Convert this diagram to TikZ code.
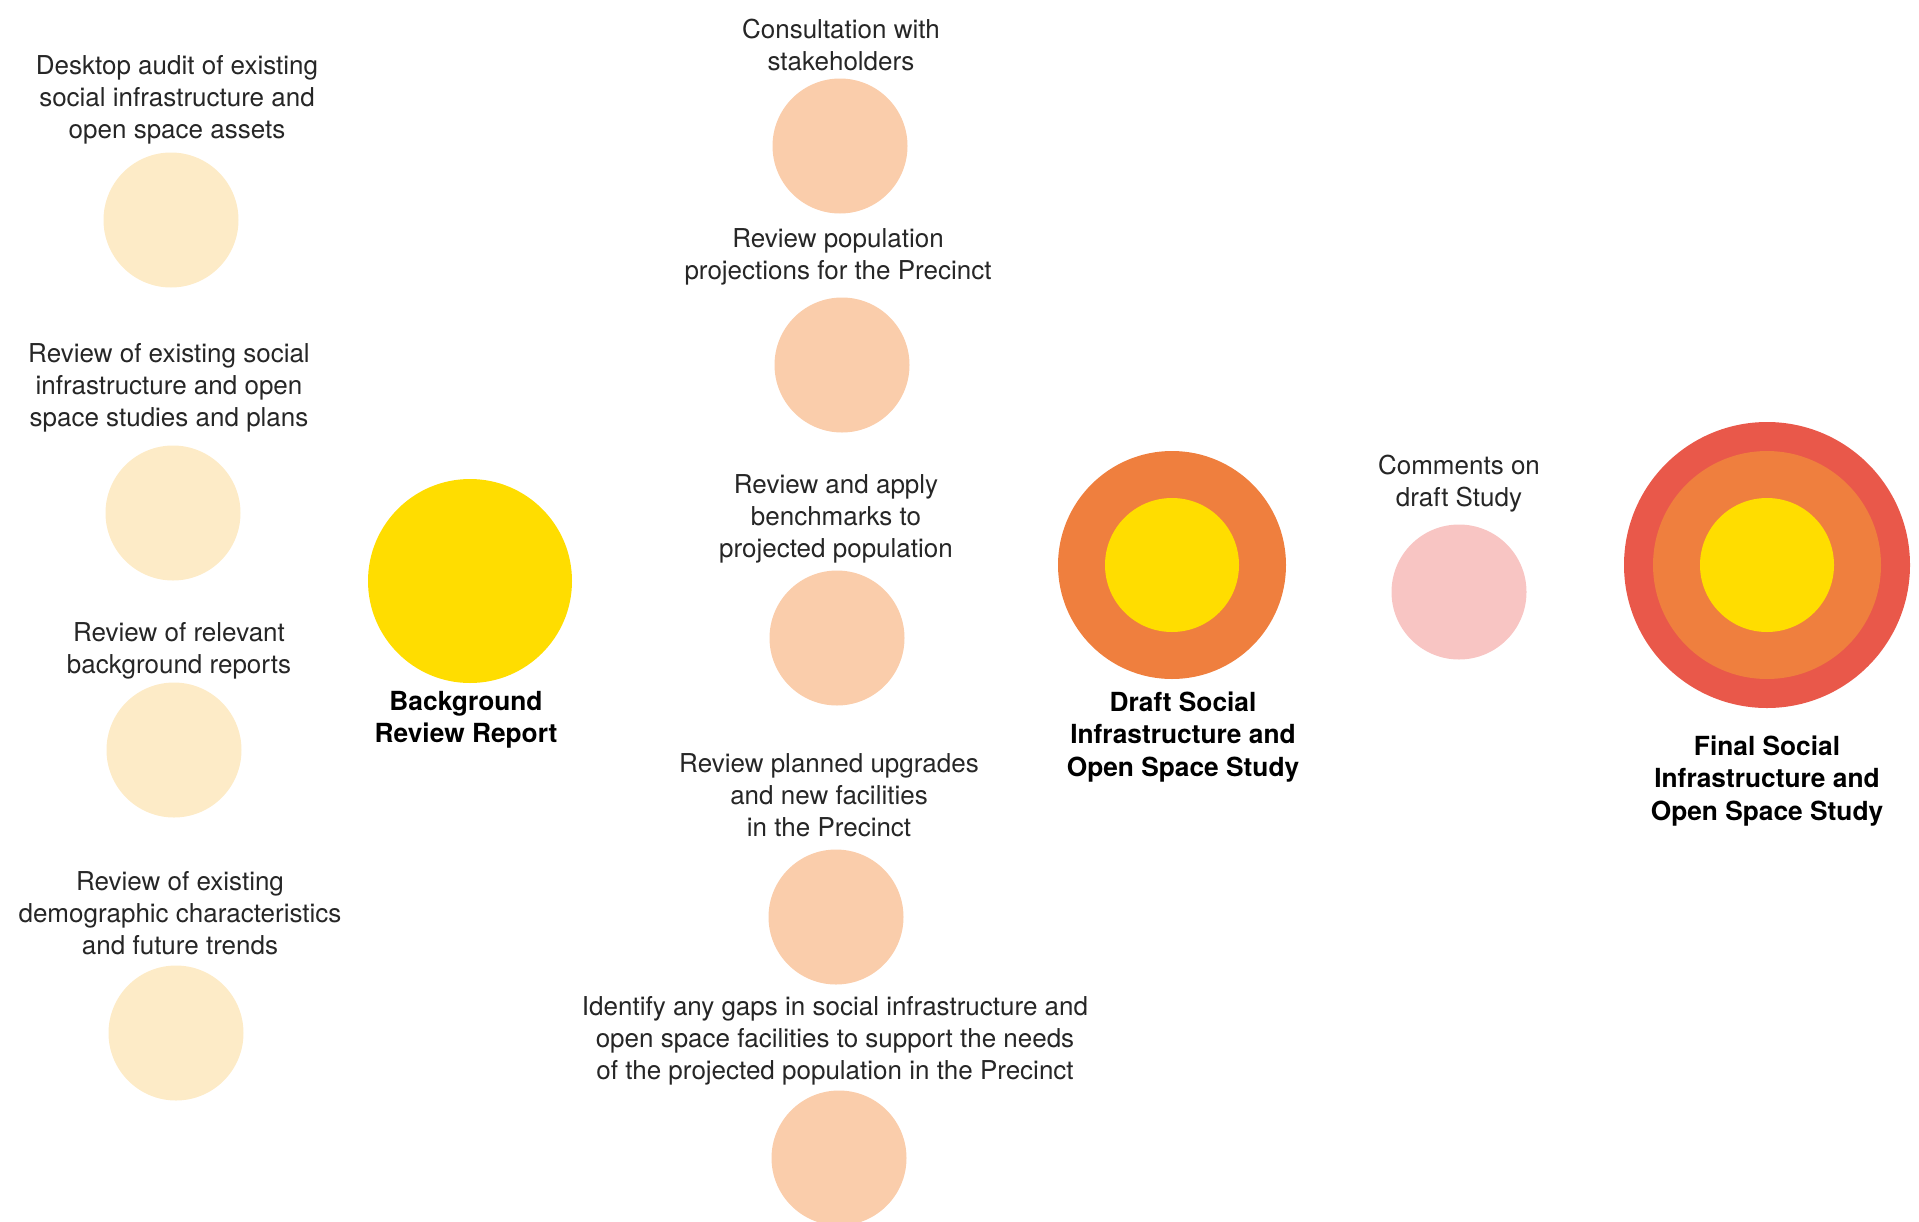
\documentclass[tikz,border=0pt]{standalone}
\usepackage{fontspec}
\setmainfont{TeX Gyre Heros}
\definecolor{paleyellow}{HTML}{FDEBC7}
\definecolor{peach}{HTML}{FACDAB}
\definecolor{sunyellow}{HTML}{FFDD00}
\definecolor{orangering}{HTML}{EF7F3E}
\definecolor{redring}{HTML}{E9584A}
\definecolor{pinkdot}{HTML}{F8C5C3}
\definecolor{txtgray}{HTML}{262626}
\tikzset{
  dot/.style={circle, inner sep=0pt, draw=none, minimum size=#1},
  lbl/.style={align=center, inner sep=0pt, text=txtgray, font=\fontsize{26}{32}\selectfont},
  boldlbl/.style={align=center, inner sep=0pt, text=black, font=\fontsize{26.3}{32.5}\selectfont\bfseries},
}
\begin{document}
\begin{tikzpicture}[x=1pt,y=-1pt]
\useasboundingbox (0,0) rectangle (1919,1221);
\clip (0,0) rectangle (1919,1221);
% left column
\node[dot=135pt, fill=paleyellow] (a1) at (171,220) {};
\node[dot=135pt, fill=paleyellow] (a2) at (173,513) {};
\node[dot=135pt, fill=paleyellow] (a3) at (174,750) {};
\node[dot=135pt, fill=paleyellow] (a4) at (176,1033) {};
\node[lbl] (ta1) at (177,100) {Desktop audit of existing\\social infrastructure and\\open space assets};
\node[lbl] (ta2) at (169,388) {Review of existing social\\infrastructure and open\\space studies and plans};
\node[lbl] (ta3) at (179,651) {Review of relevant\\background reports};
\node[lbl] (ta4) at (180,913) {Review of existing\\demographic characteristics\\and future trends};
% background review
\node[dot=204pt, fill=sunyellow] (bg) at (470,581) {};
\node[boldlbl] (tbg) at (466,720) {Background\\Review Report};
% middle column
\node[dot=135pt, fill=peach] (m1) at (840,146) {};
\node[dot=135pt, fill=peach] (m2) at (842,365) {};
\node[dot=135pt, fill=peach] (m3) at (837,638) {};
\node[dot=135pt, fill=peach] (m4) at (836,917) {};
\node[dot=135pt, fill=peach] (m5) at (839,1158) {};
\node[lbl] (tm1) at (841,45) {Consultation with\\stakeholders};
\node[lbl] (tm2) at (838,257) {Review population\\projections for the Precinct};
\node[lbl] (tm3) at (836,519) {Review and apply\\benchmarks to\\projected population};
\node[lbl] (tm4) at (829,795) {Review planned upgrades\\and new facilities\\in the Precinct};
\node[lbl] (tm5) at (835,1041) {Identify any gaps in social infrastructure and\\open space facilities to support the needs\\of the projected population in the Precinct};
% draft study
\node[dot=228pt, fill=orangering] (dr) at (1172,565) {};
\node[dot=134pt, fill=sunyellow] (dri) at (dr.center) {};
\node[boldlbl] (tdr) at (1183,737) {Draft Social\\Infrastructure and\\Open Space Study};
% comments
\node[dot=135pt, fill=pinkdot] (cm) at (1459,592) {};
\node[lbl] (tcm) at (1459,484) {Comments on\\draft Study};
% final study
\node[dot=286pt, fill=redring] (fn) at (1767,565) {};
\node[dot=228pt, fill=orangering] (fnm) at (fn.center) {};
\node[dot=134pt, fill=sunyellow] (fni) at (fn.center) {};
\node[boldlbl] (tfn) at (1767,781) {Final Social\\Infrastructure and\\Open Space Study};
\end{tikzpicture}
\end{document}
